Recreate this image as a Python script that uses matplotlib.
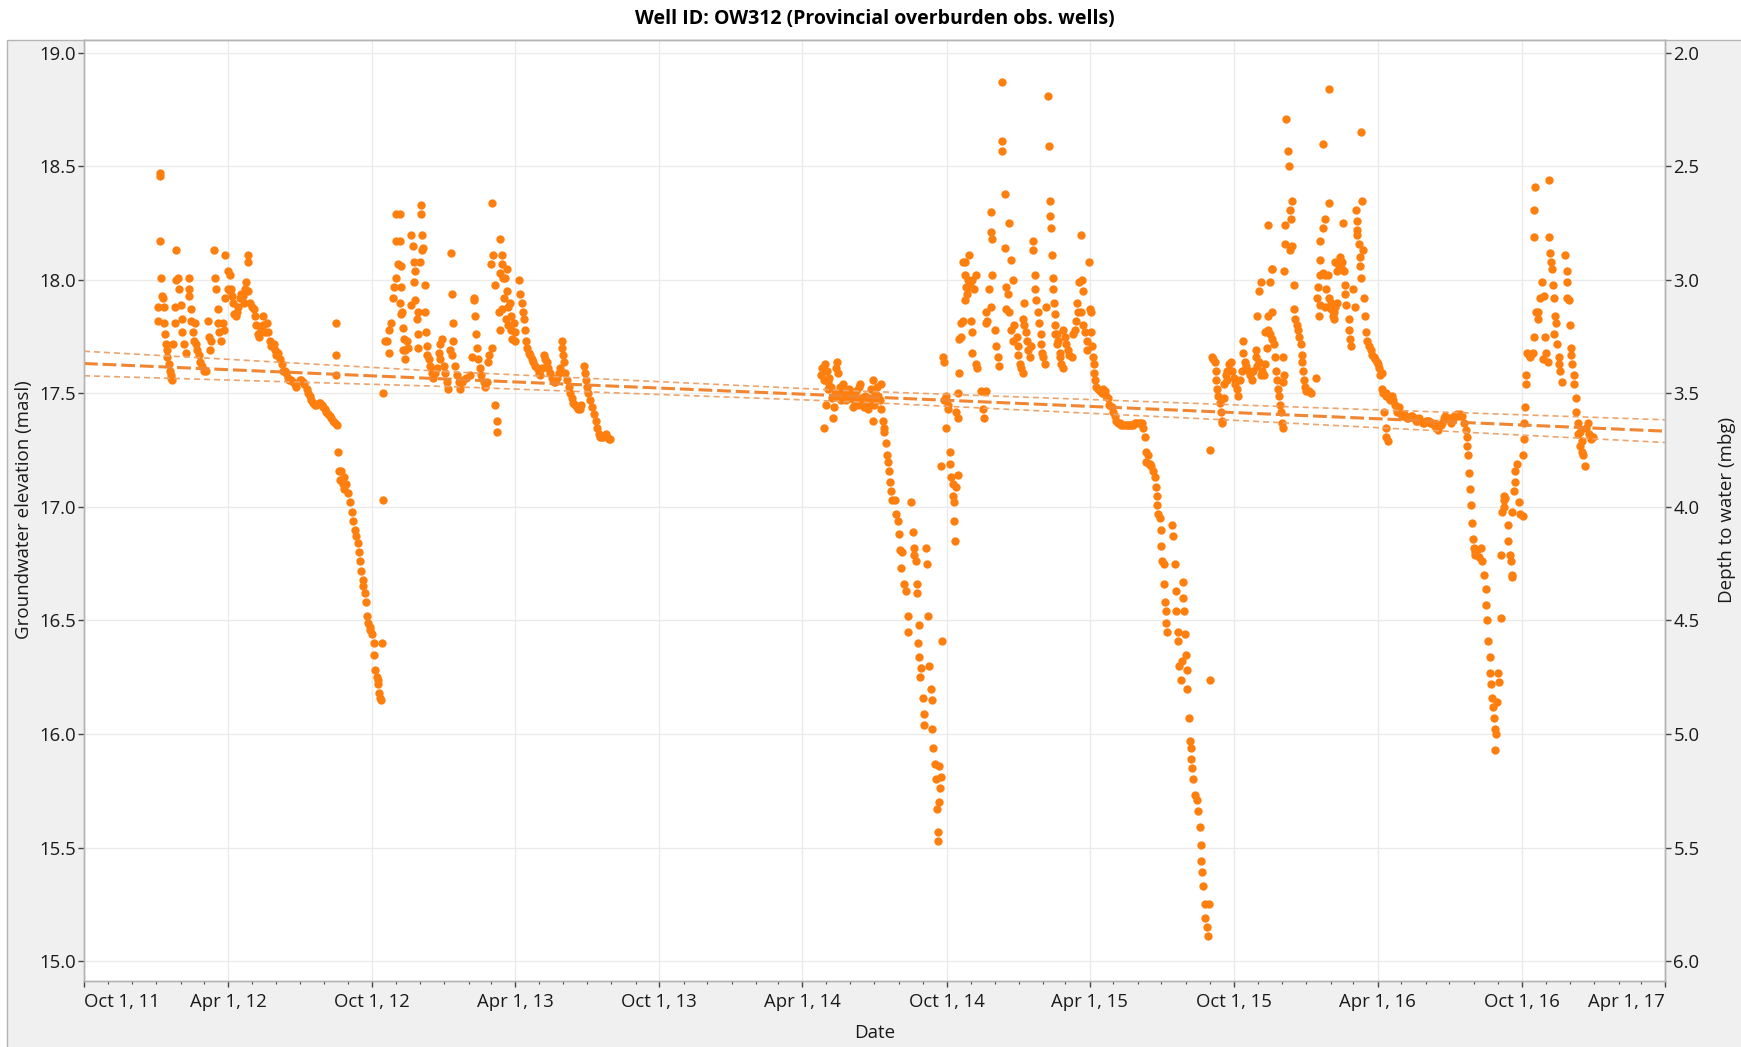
from datetime import datetime

import numpy as np
import matplotlib
matplotlib.use("Agg")
import matplotlib.pyplot as plt
import matplotlib.dates as mdates
from matplotlib.patches import Rectangle
from matplotlib.ticker import MultipleLocator, FormatStrFormatter

plt.rcParams['font.family'] = ['Open Sans', 'DejaVu Sans']

# ===================== observations (date, groundwater elevation masl) =====================
wy2012 = [
    ("2012-01-03", 17.88), ("2012-01-03", 17.82), ("2012-01-05", 18.47), ("2012-01-05", 18.46),
    ("2012-01-06", 18.17), ("2012-01-07", 18.01), ("2012-01-08", 17.93), ("2012-01-09", 17.92),
    ("2012-01-11", 17.88), ("2012-01-11", 17.81), ("2012-01-12", 17.76), ("2012-01-13", 17.72),
    ("2012-01-15", 17.69), ("2012-01-15", 17.66), ("2012-01-17", 17.63), ("2012-01-18", 17.60),
    ("2012-01-19", 17.58), ("2012-01-20", 17.57), ("2012-01-21", 17.56), ("2012-01-22", 17.72),
    ("2012-01-24", 17.88), ("2012-01-24", 17.81), ("2012-01-26", 18.13), ("2012-01-26", 18.00),
    ("2012-01-29", 18.01), ("2012-01-30", 17.96), ("2012-02-01", 17.89), ("2012-02-03", 17.83),
    ("2012-02-03", 17.77), ("2012-02-05", 17.72), ("2012-02-07", 17.68), ("2012-02-11", 18.01),
    ("2012-02-11", 17.96), ("2012-02-12", 17.93), ("2012-02-14", 17.87), ("2012-02-14", 17.82),
    ("2012-02-16", 17.77), ("2012-02-18", 17.73), ("2012-02-19", 17.81), ("2012-02-20", 17.72),
    ("2012-02-22", 17.69), ("2012-02-24", 17.67), ("2012-02-26", 17.64), ("2012-02-28", 17.62),
    ("2012-03-02", 17.60), ("2012-03-04", 17.60), ("2012-03-06", 17.82), ("2012-03-08", 17.75),
    ("2012-03-09", 17.69), ("2012-03-10", 17.73), ("2012-03-14", 18.13), ("2012-03-16", 18.01),
    ("2012-03-17", 17.96), ("2012-03-19", 17.87), ("2012-03-19", 17.81), ("2012-03-21", 17.77),
    ("2012-03-23", 17.73), ("2012-03-25", 17.81), ("2012-03-27", 17.78), ("2012-03-28", 18.11),
    ("2012-03-28", 17.92), ("2012-04-01", 18.04), ("2012-04-01", 17.96), ("2012-04-03", 17.95),
    ("2012-04-04", 18.02), ("2012-04-05", 17.96), ("2012-04-06", 17.93), ("2012-04-07", 17.90),
    ("2012-04-09", 17.85), ("2012-04-11", 17.84), ("2012-04-12", 17.86), ("2012-04-14", 17.88),
    ("2012-04-16", 17.92), ("2012-04-18", 17.94), ("2012-04-20", 17.93), ("2012-04-21", 17.90),
    ("2012-04-23", 17.96), ("2012-04-24", 17.99), ("2012-04-26", 18.08), ("2012-04-26", 18.11),
    ("2012-04-27", 17.95), ("2012-04-29", 17.90), ("2012-05-02", 17.88), ("2012-05-04", 17.87),
    ("2012-05-05", 17.84), ("2012-05-07", 17.80), ("2012-05-09", 17.76), ("2012-05-11", 17.75),
    ("2012-05-13", 17.78), ("2012-05-16", 17.84), ("2012-05-16", 17.80), ("2012-05-18", 17.77),
    ("2012-05-20", 17.81), ("2012-05-22", 17.77), ("2012-05-24", 17.73), ("2012-05-26", 17.71),
    ("2012-05-29", 17.72), ("2012-05-31", 17.69), ("2012-06-01", 17.67), ("2012-06-04", 17.68),
    ("2012-06-06", 17.65), ("2012-06-08", 17.63), ("2012-06-10", 17.60), ("2012-06-12", 17.60),
    ("2012-06-14", 17.59), ("2012-06-16", 17.57), ("2012-06-18", 17.56), ("2012-06-20", 17.56),
    ("2012-06-23", 17.55), ("2012-06-25", 17.54), ("2012-06-27", 17.53), ("2012-07-01", 17.56),
    ("2012-07-03", 17.56), ("2012-07-05", 17.55), ("2012-07-07", 17.54), ("2012-07-10", 17.52),
    ("2012-07-12", 17.50), ("2012-07-14", 17.49), ("2012-07-16", 17.47), ("2012-07-18", 17.46),
    ("2012-07-20", 17.45), ("2012-07-22", 17.45), ("2012-07-25", 17.46), ("2012-07-27", 17.46),
    ("2012-07-29", 17.45), ("2012-07-31", 17.44), ("2012-08-02", 17.43), ("2012-08-04", 17.42),
    ("2012-08-06", 17.41), ("2012-08-08", 17.40), ("2012-08-10", 17.39), ("2012-08-13", 17.38),
    ("2012-08-15", 17.37), ("2012-08-16", 17.81), ("2012-08-16", 17.67), ("2012-08-16", 17.58),
    ("2012-08-17", 17.36), ("2012-08-19", 17.24), ("2012-08-20", 17.16), ("2012-08-21", 17.12),
    ("2012-08-23", 17.16), ("2012-08-25", 17.10), ("2012-08-26", 17.08), ("2012-08-27", 17.13),
    ("2012-08-29", 17.10), ("2012-09-01", 17.06), ("2012-09-03", 17.02), ("2012-09-05", 16.98),
    ("2012-09-07", 16.94), ("2012-09-09", 16.90), ("2012-09-11", 16.87), ("2012-09-13", 16.84),
    ("2012-09-15", 16.80), ("2012-09-16", 16.76), ("2012-09-17", 16.72), ("2012-09-19", 16.68),
    ("2012-09-20", 16.65), ("2012-09-22", 16.62), ("2012-09-23", 16.58), ("2012-09-25", 16.52),
    ("2012-09-26", 16.49), ("2012-09-28", 16.47), ("2012-09-29", 16.46), ("2012-10-01", 16.44),
    ("2012-10-03", 16.40), ("2012-10-04", 16.35), ("2012-10-05", 16.28), ("2012-10-07", 16.25),
    ("2012-10-08", 16.22), ("2012-10-09", 16.24), ("2012-10-10", 16.18), ("2012-10-11", 16.16),
    ("2012-10-12", 16.15), ("2012-10-14", 16.40),
]

wy2013 = [
    ("2012-10-15", 17.50), ("2012-10-15", 17.03), ("2012-10-18", 17.73), ("2012-10-20", 17.73),
    ("2012-10-22", 17.68), ("2012-10-22", 17.78), ("2012-10-25", 17.81), ("2012-10-28", 17.92),
    ("2012-10-29", 17.97), ("2012-10-31", 18.29), ("2012-10-31", 18.17), ("2012-11-01", 18.01),
    ("2012-11-03", 18.07), ("2012-11-05", 17.90), ("2012-11-05", 18.29), ("2012-11-05", 18.17),
    ("2012-11-07", 17.85), ("2012-11-07", 18.06), ("2012-11-07", 17.97), ("2012-11-08", 17.86),
    ("2012-11-09", 17.79), ("2012-11-09", 17.69), ("2012-11-10", 17.74), ("2012-11-12", 17.65),
    ("2012-11-12", 17.69), ("2012-11-14", 17.73), ("2012-11-16", 17.70), ("2012-11-20", 18.20),
    ("2012-11-20", 17.89), ("2012-11-22", 18.15), ("2012-11-23", 18.08), ("2012-11-23", 17.99),
    ("2012-11-25", 18.04), ("2012-11-25", 17.91), ("2012-11-27", 17.83), ("2012-11-28", 17.76),
    ("2012-11-29", 17.86), ("2012-11-29", 17.70), ("2012-12-01", 18.08), ("2012-12-02", 18.33),
    ("2012-12-02", 18.29), ("2012-12-04", 18.20), ("2012-12-04", 18.13), ("2012-12-05", 18.14),
    ("2012-12-07", 17.98), ("2012-12-07", 17.86), ("2012-12-09", 17.77), ("2012-12-10", 17.71),
    ("2012-12-10", 17.67), ("2012-12-12", 17.65), ("2012-12-14", 17.62), ("2012-12-16", 17.59),
    ("2012-12-18", 17.57), ("2012-12-20", 17.59), ("2012-12-23", 17.61), ("2012-12-25", 17.68),
    ("2012-12-27", 17.72), ("2012-12-27", 17.65), ("2012-12-29", 17.74), ("2012-12-31", 17.62),
    ("2013-01-02", 17.59), ("2013-01-04", 17.55), ("2013-01-06", 17.52), ("2013-01-08", 17.69),
    ("2013-01-09", 18.12), ("2013-01-10", 17.94), ("2013-01-10", 17.67), ("2013-01-12", 17.81),
    ("2013-01-12", 17.73), ("2013-01-14", 17.62), ("2013-01-17", 17.58), ("2013-01-19", 17.55),
    ("2013-01-21", 17.52), ("2013-01-23", 17.55), ("2013-01-25", 17.56), ("2013-01-29", 17.57),
    ("2013-02-02", 17.58), ("2013-02-05", 17.66), ("2013-02-07", 17.91), ("2013-02-08", 17.92),
    ("2013-02-09", 17.84), ("2013-02-10", 17.76), ("2013-02-11", 17.70), ("2013-02-13", 17.65),
    ("2013-02-15", 17.61), ("2013-02-17", 17.58), ("2013-02-20", 17.55), ("2013-02-22", 17.53),
    ("2013-02-24", 17.55), ("2013-02-26", 17.64), ("2013-02-27", 17.67), ("2013-03-01", 18.07),
    ("2013-03-02", 17.70), ("2013-03-03", 18.34), ("2013-03-04", 18.11), ("2013-03-06", 17.98),
    ("2013-03-06", 17.45), ("2013-03-09", 17.38), ("2013-03-09", 17.33), ("2013-03-11", 17.86),
    ("2013-03-13", 18.18), ("2013-03-13", 18.03), ("2013-03-13", 17.78), ("2013-03-15", 18.11),
    ("2013-03-15", 18.07), ("2013-03-15", 17.87), ("2013-03-17", 18.01), ("2013-03-18", 17.92),
    ("2013-03-19", 18.01), ("2013-03-20", 17.83), ("2013-03-21", 18.05), ("2013-03-22", 17.95),
    ("2013-03-23", 17.88), ("2013-03-23", 17.80), ("2013-03-25", 17.90), ("2013-03-26", 17.84),
    ("2013-03-27", 17.78), ("2013-03-28", 17.74), ("2013-03-30", 17.81), ("2013-04-01", 17.77),
    ("2013-04-01", 17.73), ("2013-04-06", 18.00), ("2013-04-07", 17.94), ("2013-04-09", 17.90),
    ("2013-04-11", 17.86), ("2013-04-12", 17.83), ("2013-04-14", 17.78), ("2013-04-15", 17.73),
    ("2013-04-16", 17.70), ("2013-04-18", 17.68), ("2013-04-20", 17.67), ("2013-04-22", 17.65),
    ("2013-04-24", 17.64), ("2013-04-26", 17.62), ("2013-04-28", 17.61), ("2013-05-01", 17.59),
    ("2013-05-03", 17.58), ("2013-05-05", 17.61), ("2013-05-07", 17.67), ("2013-05-09", 17.65),
    ("2013-05-11", 17.64), ("2013-05-13", 17.61), ("2013-05-15", 17.59), ("2013-05-18", 17.57),
    ("2013-05-20", 17.55), ("2013-05-22", 17.55), ("2013-05-24", 17.57), ("2013-05-26", 17.59),
    ("2013-05-28", 17.61), ("2013-05-30", 17.73), ("2013-05-31", 17.70), ("2013-06-01", 17.67),
    ("2013-06-02", 17.64), ("2013-06-03", 17.59), ("2013-06-06", 17.56), ("2013-06-08", 17.53),
    ("2013-06-10", 17.50), ("2013-06-12", 17.48), ("2013-06-14", 17.46), ("2013-06-16", 17.45),
    ("2013-06-18", 17.44), ("2013-06-20", 17.43), ("2013-06-22", 17.43), ("2013-06-24", 17.45),
    ("2013-06-27", 17.62), ("2013-06-29", 17.59), ("2013-06-30", 17.56), ("2013-07-01", 17.53),
    ("2013-07-03", 17.50), ("2013-07-05", 17.47), ("2013-07-08", 17.44), ("2013-07-10", 17.41),
    ("2013-07-12", 17.38), ("2013-07-14", 17.35), ("2013-07-16", 17.32), ("2013-07-18", 17.31),
    ("2013-07-20", 17.31), ("2013-07-22", 17.31), ("2013-07-25", 17.32), ("2013-07-27", 17.31),
    ("2013-07-29", 17.30), ("2013-07-30", 17.30),
]

wy2014 = [
    ("2014-04-24", 17.58), ("2014-04-26", 17.61), ("2014-04-28", 17.35), ("2014-04-28", 17.56),
    ("2014-04-29", 17.63), ("2014-05-01", 17.45), ("2014-05-02", 17.60), ("2014-05-03", 17.52),
    ("2014-05-04", 17.55), ("2014-05-05", 17.57), ("2014-05-07", 17.53), ("2014-05-09", 17.48),
    ("2014-05-10", 17.39), ("2014-05-11", 17.44), ("2014-05-12", 17.50), ("2014-05-13", 17.61),
    ("2014-05-15", 17.64), ("2014-05-16", 17.59), ("2014-05-18", 17.48), ("2014-05-19", 17.53),
    ("2014-05-20", 17.47), ("2014-05-21", 17.50), ("2014-05-22", 17.54), ("2014-05-24", 17.51),
    ("2014-05-26", 17.47), ("2014-05-28", 17.49), ("2014-05-30", 17.52), ("2014-06-01", 17.48),
    ("2014-06-02", 17.50), ("2014-06-04", 17.44), ("2014-06-06", 17.47), ("2014-06-08", 17.51),
    ("2014-06-09", 17.46), ("2014-06-10", 17.45), ("2014-06-12", 17.53), ("2014-06-13", 17.54),
    ("2014-06-14", 17.48), ("2014-06-16", 17.45), ("2014-06-18", 17.44), ("2014-06-19", 17.49),
    ("2014-06-21", 17.47), ("2014-06-23", 17.43), ("2014-06-25", 17.48), ("2014-06-26", 17.46),
    ("2014-06-27", 17.52), ("2014-06-29", 17.38), ("2014-06-30", 17.56), ("2014-07-01", 17.45),
    ("2014-07-02", 17.50), ("2014-07-03", 17.48), ("2014-07-05", 17.53), ("2014-07-06", 17.49),
    ("2014-07-08", 17.47), ("2014-07-10", 17.54), ("2014-07-10", 17.43), ("2014-07-12", 17.38),
    ("2014-07-13", 17.35), ("2014-07-14", 17.33), ("2014-07-16", 17.28), ("2014-07-17", 17.23),
    ("2014-07-19", 17.20), ("2014-07-20", 17.16), ("2014-07-21", 17.11), ("2014-07-22", 17.07),
    ("2014-07-24", 17.03), ("2014-07-27", 17.03), ("2014-07-29", 16.97), ("2014-07-31", 16.94),
    ("2014-08-02", 16.88), ("2014-08-03", 16.81), ("2014-08-04", 16.73), ("2014-08-06", 16.80),
    ("2014-08-08", 16.66), ("2014-08-11", 16.63), ("2014-08-13", 16.52), ("2014-08-13", 16.45),
    ("2014-08-17", 17.02), ("2014-08-19", 16.89), ("2014-08-21", 16.82), ("2014-08-21", 16.79),
    ("2014-08-23", 16.76), ("2014-08-24", 16.66), ("2014-08-25", 16.62), ("2014-08-26", 16.40),
    ("2014-08-27", 16.48), ("2014-08-27", 16.34), ("2014-08-28", 16.25), ("2014-08-30", 16.29),
    ("2014-09-01", 16.16), ("2014-09-02", 16.09), ("2014-09-03", 16.04), ("2014-09-05", 16.82),
    ("2014-09-06", 16.75), ("2014-09-07", 16.52), ("2014-09-09", 16.30), ("2014-09-11", 16.20),
    ("2014-09-12", 16.15), ("2014-09-13", 16.02), ("2014-09-14", 15.94), ("2014-09-16", 15.87),
    ("2014-09-18", 15.80), ("2014-09-19", 15.67), ("2014-09-20", 15.57), ("2014-09-20", 15.53),
    ("2014-09-21", 15.70), ("2014-09-22", 15.86), ("2014-09-23", 15.76), ("2014-09-24", 15.81),
    ("2014-09-24", 17.18), ("2014-09-25", 16.41), ("2014-09-26", 17.66), ("2014-09-28", 17.64),
    ("2014-09-28", 17.47), ("2014-09-30", 17.49), ("2014-09-30", 17.35), ("2014-10-03", 17.45),
    ("2014-10-03", 17.43), ("2014-10-05", 17.24), ("2014-10-06", 17.19), ("2014-10-07", 17.13),
    ("2014-10-09", 17.10), ("2014-10-09", 17.05), ("2014-10-10", 17.02), ("2014-10-11", 16.94),
    ("2014-10-12", 16.85), ("2014-10-13", 17.09), ("2014-10-13", 17.42), ("2014-10-15", 17.39),
    ("2014-10-15", 17.14), ("2014-10-15", 17.50), ("2014-10-17", 17.59), ("2014-10-17", 17.74),
    ("2014-10-20", 17.81), ("2014-10-20", 17.75), ("2014-10-22", 17.82), ("2014-10-22", 18.08),
    ("2014-10-24", 17.91), ("2014-10-24", 18.02), ("2014-10-24", 18.08), ("2014-10-26", 17.97),
    ("2014-10-27", 17.94), ("2014-10-28", 18.00), ("2014-10-30", 18.11), ("2014-11-01", 17.97),
    ("2014-11-01", 17.82), ("2014-11-03", 18.00), ("2014-11-03", 17.77), ("2014-11-03", 17.68),
    ("2014-11-05", 17.96), ("2014-11-07", 18.02), ("2014-11-07", 17.63), ("2014-11-09", 17.61),
    ("2014-11-14", 17.51), ("2014-11-16", 17.43), ("2014-11-18", 17.39), ("2014-11-20", 17.51),
    ("2014-11-20", 17.81), ("2014-11-20", 17.86), ("2014-11-22", 17.82), ("2014-11-24", 17.96),
    ("2014-11-26", 17.88), ("2014-11-27", 18.30), ("2014-11-27", 18.21), ("2014-11-28", 18.18),
    ("2014-11-28", 18.02), ("2014-12-01", 17.78), ("2014-12-03", 17.71), ("2014-12-05", 17.66),
    ("2014-12-07", 17.62), ("2014-12-10", 18.87), ("2014-12-10", 18.61), ("2014-12-10", 18.57),
]

wy2015 = [
    ("2014-12-14", 18.38), ("2014-12-14", 18.14), ("2014-12-16", 17.97), ("2014-12-16", 17.87),
    ("2014-12-18", 17.94), ("2014-12-20", 18.25), ("2014-12-20", 17.86), ("2014-12-22", 18.09),
    ("2014-12-22", 17.78), ("2014-12-24", 18.00), ("2014-12-24", 17.73), ("2014-12-26", 17.80),
    ("2014-12-29", 17.75), ("2014-12-31", 17.71), ("2014-12-31", 17.67), ("2015-01-02", 17.63),
    ("2015-01-04", 17.61), ("2015-01-06", 17.59), ("2015-01-06", 17.83), ("2015-01-08", 17.90),
    ("2015-01-08", 17.80), ("2015-01-10", 17.77), ("2015-01-11", 17.73), ("2015-01-12", 17.69),
    ("2015-01-15", 17.66), ("2015-01-17", 17.71), ("2015-01-19", 18.17), ("2015-01-19", 18.13),
    ("2015-01-21", 18.02), ("2015-01-21", 17.96), ("2015-01-23", 17.91), ("2015-01-25", 17.86),
    ("2015-01-27", 17.81), ("2015-01-29", 17.76), ("2015-01-29", 17.72), ("2015-01-30", 17.68),
    ("2015-02-01", 17.66), ("2015-02-03", 17.63), ("2015-02-05", 17.88), ("2015-02-07", 18.81),
    ("2015-02-08", 18.59), ("2015-02-09", 18.35), ("2015-02-10", 18.28), ("2015-02-11", 18.23),
    ("2015-02-12", 18.11), ("2015-02-13", 18.01), ("2015-02-13", 17.96), ("2015-02-15", 17.90),
    ("2015-02-16", 17.85), ("2015-02-16", 17.76), ("2015-02-16", 17.80), ("2015-02-18", 17.76),
    ("2015-02-19", 17.72), ("2015-02-20", 17.73), ("2015-02-22", 17.68), ("2015-02-22", 17.66),
    ("2015-02-24", 17.63), ("2015-02-26", 17.61), ("2015-02-26", 17.78), ("2015-02-28", 17.75),
    ("2015-03-02", 17.72), ("2015-03-04", 17.69), ("2015-03-06", 17.67), ("2015-03-09", 17.66),
    ("2015-03-11", 17.76), ("2015-03-13", 17.78), ("2015-03-15", 17.82), ("2015-03-16", 17.90),
    ("2015-03-17", 17.86), ("2015-03-18", 17.99), ("2015-03-21", 18.20), ("2015-03-21", 17.86),
    ("2015-03-22", 18.00), ("2015-03-23", 17.95), ("2015-03-23", 17.80), ("2015-03-26", 17.77),
    ("2015-03-28", 17.73), ("2015-03-29", 17.69), ("2015-03-31", 18.08), ("2015-04-01", 17.87),
    ("2015-04-02", 17.86), ("2015-04-03", 17.77), ("2015-04-04", 17.71), ("2015-04-05", 17.66),
    ("2015-04-06", 17.63), ("2015-04-07", 17.59), ("2015-04-08", 17.56), ("2015-04-09", 17.53),
    ("2015-04-12", 17.52), ("2015-04-14", 17.51), ("2015-04-16", 17.50), ("2015-04-18", 17.52),
    ("2015-04-20", 17.51), ("2015-04-22", 17.49), ("2015-04-24", 17.48), ("2015-04-26", 17.45),
    ("2015-04-29", 17.44), ("2015-05-01", 17.42), ("2015-05-03", 17.40), ("2015-05-05", 17.38),
    ("2015-05-07", 17.37), ("2015-05-09", 17.37), ("2015-05-11", 17.36), ("2015-05-13", 17.36),
    ("2015-05-16", 17.36), ("2015-05-18", 17.36), ("2015-05-20", 17.36), ("2015-05-22", 17.36),
    ("2015-05-24", 17.36), ("2015-05-26", 17.36), ("2015-05-28", 17.37), ("2015-05-30", 17.37),
    ("2015-06-02", 17.37), ("2015-06-04", 17.37), ("2015-06-06", 17.37), ("2015-06-08", 17.35),
    ("2015-06-10", 17.31), ("2015-06-11", 17.24), ("2015-06-12", 17.20), ("2015-06-14", 17.23),
    ("2015-06-15", 17.19), ("2015-06-16", 17.19), ("2015-06-18", 17.18), ("2015-06-21", 17.16),
    ("2015-06-23", 17.13), ("2015-06-24", 17.09), ("2015-06-25", 17.05), ("2015-06-26", 17.01),
    ("2015-06-27", 16.97), ("2015-06-29", 16.95), ("2015-06-30", 16.90), ("2015-07-01", 16.83),
    ("2015-07-02", 16.76), ("2015-07-04", 16.75), ("2015-07-05", 16.66), ("2015-07-06", 16.58),
    ("2015-07-07", 16.54), ("2015-07-07", 16.49), ("2015-07-08", 16.45), ("2015-07-14", 16.92),
    ("2015-07-16", 16.87), ("2015-07-18", 16.75), ("2015-07-19", 16.63), ("2015-07-20", 16.54),
    ("2015-07-22", 16.45), ("2015-07-22", 16.41), ("2015-07-24", 16.30), ("2015-07-26", 16.24),
    ("2015-07-27", 16.32), ("2015-07-29", 16.67), ("2015-07-29", 16.60), ("2015-07-30", 16.54),
    ("2015-07-31", 16.44), ("2015-08-01", 16.35), ("2015-08-02", 16.28), ("2015-08-03", 16.20),
    ("2015-08-05", 16.07), ("2015-08-06", 15.97), ("2015-08-08", 15.94), ("2015-08-08", 15.89),
    ("2015-08-09", 15.85), ("2015-08-10", 15.80), ("2015-08-13", 15.73), ("2015-08-15", 15.71),
    ("2015-08-17", 15.66), ("2015-08-19", 15.59), ("2015-08-20", 15.51), ("2015-08-21", 15.44),
    ("2015-08-22", 15.39), ("2015-08-23", 15.33), ("2015-08-25", 15.25), ("2015-08-26", 15.19),
    ("2015-08-28", 15.15), ("2015-08-29", 15.11), ("2015-08-31", 15.25),
]

wy2016 = [
    ("2015-09-01", 17.25), ("2015-09-01", 16.24), ("2015-09-03", 17.66), ("2015-09-05", 17.65),
    ("2015-09-07", 17.64), ("2015-09-08", 17.60), ("2015-09-09", 17.56), ("2015-09-10", 17.52),
    ("2015-09-11", 17.49), ("2015-09-13", 17.46), ("2015-09-15", 17.42), ("2015-09-16", 17.38),
    ("2015-09-16", 17.37), ("2015-09-18", 17.48), ("2015-09-19", 17.54), ("2015-09-21", 17.58),
    ("2015-09-22", 17.60), ("2015-09-23", 17.56), ("2015-09-25", 17.63), ("2015-09-28", 17.64),
    ("2015-09-29", 17.60), ("2015-10-01", 17.57), ("2015-10-03", 17.54), ("2015-10-05", 17.52),
    ("2015-10-07", 17.49), ("2015-10-09", 17.56), ("2015-10-11", 17.60), ("2015-10-13", 17.73),
    ("2015-10-13", 17.68), ("2015-10-15", 17.64), ("2015-10-16", 17.62), ("2015-10-20", 17.60),
    ("2015-10-22", 17.58), ("2015-10-24", 17.56), ("2015-10-26", 17.60), ("2015-10-29", 17.69),
    ("2015-10-29", 17.66), ("2015-10-31", 17.62), ("2015-10-31", 17.84), ("2015-11-02", 17.64),
    ("2015-11-02", 17.95), ("2015-11-04", 17.58), ("2015-11-04", 17.99), ("2015-11-06", 17.60),
    ("2015-11-08", 17.58), ("2015-11-10", 17.77), ("2015-11-10", 17.63), ("2015-11-12", 17.70),
    ("2015-11-14", 17.84), ("2015-11-14", 17.78), ("2015-11-14", 18.24), ("2015-11-16", 17.76),
    ("2015-11-16", 17.99), ("2015-11-18", 17.74), ("2015-11-18", 18.05), ("2015-11-18", 17.86),
    ("2015-11-19", 18.05), ("2015-11-21", 17.72), ("2015-11-23", 17.66), ("2015-11-24", 17.60),
    ("2015-11-25", 17.56), ("2015-11-26", 17.52), ("2015-11-27", 17.49), ("2015-11-29", 17.45),
    ("2015-11-30", 17.42), ("2015-12-01", 17.37), ("2015-12-02", 17.35), ("2015-12-03", 17.55),
    ("2015-12-03", 17.66), ("2015-12-04", 17.58), ("2015-12-04", 18.04), ("2015-12-05", 18.24),
    ("2015-12-05", 18.16), ("2015-12-07", 18.71), ("2015-12-09", 18.57), ("2015-12-10", 18.50),
    ("2015-12-12", 18.31), ("2015-12-12", 18.13), ("2015-12-13", 18.27), ("2015-12-14", 18.35),
    ("2015-12-14", 18.15), ("2015-12-16", 17.98), ("2015-12-16", 17.87), ("2015-12-18", 17.83),
    ("2015-12-21", 17.80), ("2015-12-22", 17.78), ("2015-12-23", 17.75), ("2015-12-25", 17.72),
    ("2015-12-27", 17.67), ("2015-12-27", 17.64), ("2015-12-28", 17.60), ("2015-12-29", 17.56),
    ("2015-12-31", 17.53), ("2016-01-01", 17.51), ("2016-01-04", 17.51), ("2016-01-07", 17.50),
    ("2016-01-14", 17.57), ("2016-01-15", 17.92), ("2016-01-16", 17.97), ("2016-01-17", 17.84),
    ("2016-01-18", 18.02), ("2016-01-19", 18.17), ("2016-01-19", 18.09), ("2016-01-19", 17.89),
    ("2016-01-22", 18.03), ("2016-01-23", 18.60), ("2016-01-23", 18.23), ("2016-01-25", 18.27),
    ("2016-01-25", 18.02), ("2016-01-25", 17.88), ("2016-01-26", 17.96), ("2016-01-29", 18.02),
    ("2016-01-30", 18.84), ("2016-01-30", 18.34), ("2016-01-30", 17.92), ("2016-02-01", 17.90),
    ("2016-02-01", 17.87), ("2016-02-03", 17.88), ("2016-02-04", 17.84), ("2016-02-05", 17.83),
    ("2016-02-06", 17.86), ("2016-02-07", 17.88), ("2016-02-07", 18.08), ("2016-02-09", 17.90),
    ("2016-02-09", 18.04), ("2016-02-11", 18.07), ("2016-02-13", 18.10), ("2016-02-15", 18.08),
    ("2016-02-16", 18.05), ("2016-02-17", 18.25), ("2016-02-18", 18.04), ("2016-02-19", 17.98),
    ("2016-02-20", 17.94), ("2016-02-21", 17.89), ("2016-02-24", 17.83), ("2016-02-25", 17.78),
    ("2016-02-26", 17.74), ("2016-02-27", 17.71), ("2016-03-01", 17.96), ("2016-03-03", 17.88),
    ("2016-03-04", 18.31), ("2016-03-05", 18.26), ("2016-03-05", 18.22), ("2016-03-06", 18.20),
    ("2016-03-08", 18.16), ("2016-03-09", 18.10), ("2016-03-10", 18.06), ("2016-03-11", 18.65),
    ("2016-03-11", 18.01), ("2016-03-12", 18.35), ("2016-03-13", 18.13), ("2016-03-14", 17.92),
    ("2016-03-16", 17.84), ("2016-03-17", 17.77), ("2016-03-18", 17.73), ("2016-03-21", 17.71),
    ("2016-03-23", 17.69), ("2016-03-25", 17.67), ("2016-03-27", 17.66), ("2016-03-29", 17.65),
    ("2016-03-31", 17.64), ("2016-04-01", 17.63), ("2016-04-02", 17.61), ("2016-04-04", 17.58),
    ("2016-04-06", 17.59), ("2016-04-07", 17.52), ("2016-04-08", 17.50), ("2016-04-09", 17.42),
    ("2016-04-11", 17.50), ("2016-04-11", 17.35), ("2016-04-12", 17.49), ("2016-04-12", 17.31),
    ("2016-04-14", 17.29), ("2016-04-15", 17.48), ("2016-04-17", 17.47), ("2016-04-19", 17.49),
    ("2016-04-21", 17.47), ("2016-04-23", 17.45), ("2016-04-25", 17.42), ("2016-04-28", 17.44),
    ("2016-04-30", 17.41), ("2016-05-02", 17.40), ("2016-05-04", 17.41), ("2016-05-06", 17.40),
    ("2016-05-08", 17.39), ("2016-05-10", 17.39), ("2016-05-13", 17.40), ("2016-05-15", 17.40),
    ("2016-05-17", 17.39), ("2016-05-19", 17.38), ("2016-05-21", 17.38), ("2016-05-23", 17.39),
    ("2016-05-25", 17.38), ("2016-05-28", 17.37), ("2016-05-30", 17.37), ("2016-06-01", 17.38),
    ("2016-06-03", 17.38), ("2016-06-05", 17.38), ("2016-06-07", 17.37), ("2016-06-09", 17.37),
    ("2016-06-11", 17.36), ("2016-06-14", 17.35), ("2016-06-16", 17.34), ("2016-06-18", 17.36),
    ("2016-06-20", 17.36), ("2016-06-22", 17.37), ("2016-06-24", 17.39), ("2016-06-26", 17.40),
    ("2016-06-28", 17.39), ("2016-06-30", 17.39), ("2016-07-03", 17.37), ("2016-07-05", 17.39),
    ("2016-07-07", 17.40), ("2016-07-09", 17.40), ("2016-07-11", 17.41), ("2016-07-13", 17.40),
    ("2016-07-15", 17.41), ("2016-07-17", 17.40), ("2016-07-20", 17.37), ("2016-07-22", 17.34),
    ("2016-07-23", 17.31), ("2016-07-24", 17.27), ("2016-07-25", 17.23), ("2016-07-26", 17.15),
    ("2016-07-27", 17.08), ("2016-07-28", 17.01), ("2016-07-30", 16.93), ("2016-07-31", 16.86),
    ("2016-08-01", 16.82), ("2016-08-02", 16.80), ("2016-08-03", 16.79), ("2016-08-05", 16.81),
    ("2016-08-08", 16.78), ("2016-08-10", 16.82), ("2016-08-12", 16.76), ("2016-08-14", 16.70),
    ("2016-08-16", 16.64), ("2016-08-17", 16.57), ("2016-08-18", 16.50), ("2016-08-19", 16.41),
    ("2016-08-21", 16.34), ("2016-08-21", 16.27), ("2016-08-23", 16.22), ("2016-08-24", 16.16),
    ("2016-08-26", 16.12), ("2016-08-27", 16.07), ("2016-08-28", 16.02), ("2016-08-29", 16.00),
    ("2016-08-28", 15.93), ("2016-08-31", 16.14), ("2016-09-01", 16.27), ("2016-09-02", 16.23),
    ("2016-09-04", 16.51), ("2016-09-04", 16.79), ("2016-09-06", 16.98), ("2016-09-08", 17.03),
    ("2016-09-08", 17.05), ("2016-09-09", 17.00), ("2016-09-10", 17.04), ("2016-09-13", 16.92),
    ("2016-09-14", 16.85), ("2016-09-16", 16.79), ("2016-09-17", 16.76), ("2016-09-18", 16.70),
    ("2016-09-19", 16.69), ("2016-09-19", 16.98), ("2016-09-21", 17.07), ("2016-09-22", 17.11),
    ("2016-09-23", 17.16), ("2016-09-25", 17.19), ("2016-09-27", 17.02), ("2016-09-29", 16.97),
    ("2016-10-02", 16.96), ("2016-10-02", 17.23), ("2016-10-04", 17.30), ("2016-10-04", 17.37),
    ("2016-10-05", 17.44), ("2016-10-06", 17.54), ("2016-10-07", 17.58), ("2016-10-08", 17.68),
    ("2016-10-10", 17.67), ("2016-10-12", 17.66), ("2016-10-15", 17.68), ("2016-10-16", 18.31),
    ("2016-10-17", 17.75), ("2016-10-17", 18.19), ("2016-10-18", 18.41), ("2016-10-19", 17.86),
    ("2016-10-21", 17.83), ("2016-10-22", 17.86), ("2016-10-24", 17.92), ("2016-10-27", 17.99),
    ("2016-10-28", 17.65), ("2016-10-29", 17.93), ("2016-10-30", 17.75), ("2016-11-01", 17.68),
    ("2016-11-03", 17.64), ("2016-11-04", 18.19), ("2016-11-05", 18.44), ("2016-11-06", 18.12),
    ("2016-11-07", 18.08), ("2016-11-08", 18.05), ("2016-11-10", 17.98), ("2016-11-11", 17.92),
    ("2016-11-11", 17.76), ("2016-11-12", 17.84), ("2016-11-13", 17.81), ("2016-11-15", 17.72),
    ("2016-11-17", 17.66), ("2016-11-17", 17.63), ("2016-11-19", 17.60), ("2016-11-21", 17.55),
    ("2016-11-25", 18.11), ("2016-11-27", 18.04), ("2016-11-27", 17.92), ("2016-11-28", 17.99),
    ("2016-11-30", 17.91), ("2016-12-01", 17.80), ("2016-12-02", 17.70), ("2016-12-03", 17.67),
    ("2016-12-04", 17.63), ("2016-12-06", 17.58), ("2016-12-07", 17.54), ("2016-12-09", 17.48),
    ("2016-12-09", 17.42), ("2016-12-11", 17.37), ("2016-12-11", 17.32), ("2016-12-14", 17.33),
    ("2016-12-14", 17.27), ("2016-12-16", 17.29), ("2016-12-16", 17.24), ("2016-12-18", 17.23),
    ("2016-12-20", 17.18), ("2016-12-22", 17.35), ("2016-12-24", 17.37), ("2016-12-26", 17.32),
    ("2016-12-28", 17.30), ("2016-12-31", 17.31),
]

# ===================== trend line with confidence band =====================
trend_dates = ["2011-10-01", "2013-01-01", "2014-06-01", "2015-10-01", "2017-04-01"]
trend_level = [17.632, 17.564, 17.488, 17.416, 17.334]
upper_level = [17.686, 17.597, 17.512, 17.450, 17.384]
lower_level = [17.578, 17.531, 17.464, 17.382, 17.284]

# ===================== axes =====================
tick_dates = ["2011-10-01", "2012-04-01", "2012-10-01", "2013-04-01", "2013-10-01", "2014-04-01",
              "2014-10-01", "2015-04-01", "2015-10-01", "2016-04-01", "2016-10-01", "2017-04-01"]
elev_limits = (14.912, 19.057)
ground_elev = 21.0   # depth to water = ground_elev - elevation

ORANGE = '#ff7f0e'
TEXT = '#1a1a1a'
EDGE = '#b4b4b4'

records = wy2012 + wy2013 + wy2014 + wy2015 + wy2016
obs_dates = np.array([d for d, _ in records], dtype='datetime64[D]')
obs_level = np.array([v for _, v in records])

W, H = 1741, 1047
fig = plt.figure(figsize=(W / 100, H / 100), dpi=100, facecolor='white')
fig.add_artist(Rectangle((7 / W, -0.01), 1.0, 1 - 40 / H + 0.01, transform=fig.transFigure,
                         facecolor='#f0f0f0', edgecolor=EDGE, lw=1, zorder=0))

ax = fig.add_axes([84 / W, 1 - 981 / H, (1665 - 84) / W, (981 - 40) / H])
ax.set_facecolor('white')
ax.set_axisbelow(True)

ax.scatter(obs_dates, obs_level, s=36, color=ORANGE, linewidths=0, zorder=3)

t_dates = np.array(trend_dates, dtype='datetime64[D]')
ax.plot(t_dates, upper_level, color='#eda46c', lw=1.2, dashes=(3.6, 2.4), zorder=4)
ax.plot(t_dates, lower_level, color='#eda46c', lw=1.2, dashes=(3.6, 2.4), zorder=4)
ax.plot(t_dates, trend_level, color='#f08632', lw=2.2, dashes=(4.5, 1.6), zorder=4)

x_ticks = np.array(tick_dates, dtype='datetime64[D]')
ax.set_xlim(x_ticks[0], x_ticks[-1])
ax.set_ylim(*elev_limits)

tick_labels = []
for d in tick_dates:
    dt = datetime.strptime(d, "%Y-%m-%d")
    tick_labels.append(f"{dt:%b} {dt.day}, {dt:%y}")
ax.set_xticks(x_ticks, labels=tick_labels)
ax.xaxis.set_minor_locator(mdates.MonthLocator())
xl = ax.get_xticklabels()
xl[0].set_ha('left')
xl[-1].set_ha('right')

ax.yaxis.set_major_locator(MultipleLocator(0.5))
ax.yaxis.set_major_formatter(FormatStrFormatter('%.1f'))
ax.grid(True, which='major', color='#ebebeb', lw=1)

ax.tick_params(axis='x', which='major', direction='out', length=4.5, width=1, color='#444444',
               pad=4, labelsize=13.3, labelcolor=TEXT)
ax.tick_params(axis='x', which='minor', direction='out', length=2.2, width=0.8, color='#444444')
ax.tick_params(axis='y', direction='out', length=4, width=1, color='#444444',
               pad=2, labelsize=13.3, labelcolor=TEXT)

ax2 = ax.twinx()
ax2.set_ylim(ground_elev - elev_limits[0], ground_elev - elev_limits[1])
ax2.yaxis.set_major_locator(MultipleLocator(0.5))
ax2.yaxis.set_major_formatter(FormatStrFormatter('%.1f'))
ax2.tick_params(axis='y', direction='out', length=4, width=1, color='#444444',
                pad=2, labelsize=13.3, labelcolor=TEXT)

for a in (ax, ax2):
    for sp in a.spines.values():
        sp.set_color(EDGE)
        sp.set_linewidth(1)

# ===================== text =====================
fig.text(874.5 / W, 1 - 19 / H, "Well ID: OW312 (Provincial overburden obs. wells)",
         ha='center', va='center', fontsize=14, fontweight='bold', color='black')
fig.text(874.5 / W, 1 - 1033 / H, "Date", ha='center', va='center', fontsize=13.5, color=TEXT)
fig.text(24 / W, 1 - 510 / H, "Groundwater elevation (masl)", rotation=90,
         ha='center', va='center', fontsize=13.5, color=TEXT)
fig.text(1727 / W, 1 - 510 / H, "Depth to water (mbg)", rotation=90,
         ha='center', va='center', fontsize=13.5, color=TEXT)

fig.savefig("out.png", dpi=100, facecolor=fig.get_facecolor())
